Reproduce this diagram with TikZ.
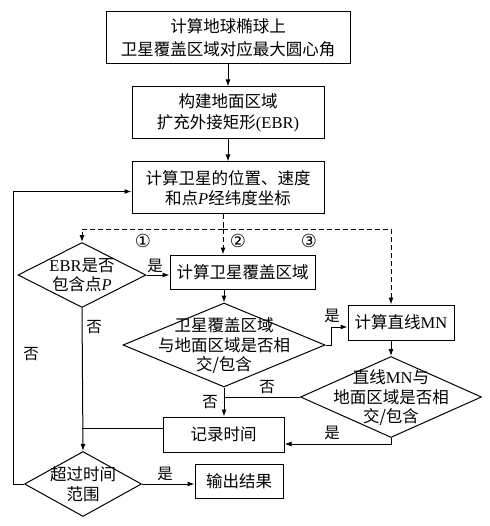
\documentclass[tikz,border=0pt]{standalone}
\usepackage{fontspec}
\setmainfont{Liberation Serif}
\newfontfamily\cjk{Noto Sans CJK SC}
\newfontfamily\djv{DejaVu Sans}
\usetikzlibrary{shapes.geometric,arrows.meta}
\newcommand\zc[1]{\makebox[0pt]{\raisebox{-0.4em}[0pt][0pt]{\begin{tabular}{@{}c@{}}#1\end{tabular}}}}
\begin{document}
\begin{tikzpicture}[x=1pt,y=-1pt, line width=1pt,
  box/.style={draw, rectangle, inner sep=0pt, align=center, font=\cjk\fontsize{16.5}{20}\selectfont},
  dia/.style={draw, diamond, inner sep=0pt, font=\cjk\fontsize{16.5}{18.5}\selectfont},
  arr/.style={-{Latex[length=7pt,width=5pt]}},
  lbl/.style={font=\cjk\fontsize{15.5}{16}\selectfont, inner sep=0pt},
  num/.style={font=\djv\fontsize{18}{18}\selectfont, inner sep=0pt},
  dsh/.style={dash pattern=on 5pt off 3pt}]
\useasboundingbox[fill=white] (0,0) rectangle (489,526);

\node[box, minimum width=244pt, minimum height=52pt, font=\cjk\fontsize{16.5}{23}\selectfont] (b1) at (228,38) {计算地球椭球上\\卫星覆盖区域对应最大圆心角};
\node[box, minimum width=192pt, minimum height=52pt, font=\cjk\fontsize{16.5}{21}\selectfont] (b2) at (228,113) {构建地面区域\\扩充外接矩形{\rmfamily(EBR)}};
\node[box, minimum width=192pt, minimum height=52pt] (b3) at (228,188) {计算卫星的位置、速度\\和点{\rmfamily\itshape P}经纬度坐标};
\node[box, minimum width=145pt, minimum height=34pt] (b4) at (242.5,272) {计算卫星覆盖区域};
\node[box, minimum width=106pt, minimum height=35pt] (b5) at (401,322.5) {计算直线{\rmfamily MN}};
\node[box, minimum width=121pt, minimum height=35pt] (b6) at (223.5,434.5) {记录时间};
\node[box, minimum width=88pt, minimum height=34pt] (b7) at (239,481) {输出结果};

\node[dia, minimum width=128pt, minimum height=65pt] (d1) at (82,275) {\zc{{\rmfamily EBR}是否\\包含点{\rmfamily\itshape P}}};
\node[dia, minimum width=202pt, minimum height=84pt] (d2) at (224,345) {\zc{卫星覆盖区域\\与地面区域是否相\\交/包含}};
\node[dia, minimum width=181pt, minimum height=81pt] (d3) at (391,397) {\zc{直线{\rmfamily MN}与\\地面区域是否相\\交/包含}};
\node[dia, minimum width=117pt, minimum height=65pt] (d4) at (83,484) {\zc{超过时间\\范围}};

\node[num] (c1) at (143,241) {①};
\node[num] (c2) at (238,241) {②};
\node[num] (c3) at (309,241) {③};

\node[lbl] (l1) at (155,266) {是};
\node[lbl] (l2) at (332,316) {是};
\node[lbl] (l3) at (94,327) {否};
\node[lbl] (l4) at (31,354) {否};
\node[lbl] (l5) at (267,387) {否};
\node[lbl] (l6) at (210,402) {否};
\node[lbl] (l7) at (332,433) {是};
\node[lbl] (l8) at (165,474) {是};

\coordinate (dj) at (223,229);
\draw[arr] (b1.south) -- (b2.north);
\draw[arr] (b2.south) -- (b3.north);
\draw[dsh] (dj |- b3.south) -- (dj);
\draw[dsh,arr] (dj) -- (dj |- b4.north);
\draw[dsh,arr] (dj) -| (d1.north);
\draw[dsh,arr] (dj) -| (d3.north |- b5.north);

\draw[arr] (d1.east) -- (d1.east -| b4.west);
\draw[arr] (d2.north |- b4.south) -- (d2.north);
\draw[arr] (d2.east) -- ++(6,0) |- ([yshift=-4.5pt]b5.west);
\draw[arr] (d3.north |- b5.south) -- (d3.north);
\draw[arr] (d2.south) -- (d2.south |- b6.north);
\draw (d3.west) -- (d3.west -| d2.south);
\draw[arr] (d3.south) |- ([yshift=-9.5pt]b6.east);
\draw ([yshift=6.5pt]b6.west) -- ([yshift=6.5pt]b6.west -| d1.south);
\draw[arr] (d1.south) -- (d4.north);
\draw[arr] (d4.east) -- (d4.east -| b7.west);
\draw[arr] (d4.west) -- ++(-11,0) |- ([yshift=-3.5pt]b3.west);
\end{tikzpicture}
\end{document}
